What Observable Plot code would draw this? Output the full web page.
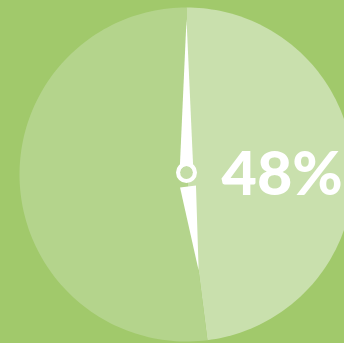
<!DOCTYPE html>
<html>
<head>
<meta charset="utf-8">
<script src="https://cdn.jsdelivr.net/npm/d3@7"></script>
<script src="https://cdn.jsdelivr.net/npm/@observablehq/plot@0.6"></script>
<style>
  html, body { margin: 0; padding: 0; background: #a1c96b; overflow: hidden; }
</style>
</head>
<body>
<div id="chart"></div>
<script>
// Data
const categories = ["48%", "52%"];
const values = [48, 52];
const sliceColors = ["#c9e0ad", "#b4d48c"];
const labelText = "48%";

// Build slice polygons (unit circle, angle clockwise from top)
const total = d3.sum(values);
const pts = [];
let acc = 0;
values.forEach((v, i) => {
  const a0 = acc / total * 2 * Math.PI;
  acc += v;
  const a1 = acc / total * 2 * Math.PI;
  const n = 120;
  pts.push({k: categories[i], x: 0, y: 0});
  for (let j = 0; j <= n; j++) {
    const a = a0 + (a1 - a0) * j / n;
    pts.push({k: categories[i], x: Math.sin(a), y: Math.cos(a)});
  }
  pts.push({k: categories[i], x: 0, y: 0});
});

// Needle: along the two slice boundaries
const bAngle = values[0] / total * 2 * Math.PI;
function needle(angle, start, len, hw0, key) {
  const s = Math.sin(angle), c = Math.cos(angle);
  const px = c, py = -s; // perpendicular
  const bx = start * s, by = start * c;
  return [
    {k: key, x: bx + hw0 * px, y: by + hw0 * py},
    {k: key, x: len * s, y: len * c},
    {k: key, x: bx - hw0 * px, y: by - hw0 * py}
  ];
}
const needlePts = [
  ...needle(0, 0, 0.93, 0.042, "up"),
  ...needle(bAngle, 0.072, 0.58, 0.048, "down")
];

const cx = 186, cy = 174, R = 167, W = 344, H = 343;
const ringY = 2 / R;

const chart = Plot.plot({
  width: W, height: H,
  margin: 0,
  style: {background: "#a1c96b"},
  x: {domain: [-cx / R, (W - cx) / R], axis: null},
  y: {domain: [(cy - H) / R, cy / R], axis: null},
  marks: [
    Plot.line(pts, {x: "x", y: "y", z: "k", fill: d => sliceColors[categories.indexOf(d.k)], stroke: null, curve: "linear"}),
    Plot.line(needlePts, {x: "x", y: "y", z: "k", fill: "white", stroke: null}),
    Plot.dot([{x: 0, y: ringY}], {x: "x", y: "y", r: 6.5, fill: "#c4dda6", stroke: null}),
    Plot.dot([{x: 0, y: ringY}], {x: "x", y: "y", r: 8.5, fill: "none", stroke: "white", strokeWidth: 4}),
    Plot.text([labelText], {x: (221 - cx) / R, y: 0, text: d => d, textAnchor: "start", lineAnchor: "middle", fill: "white", fontSize: 61, fontWeight: 900, fontFamily: "Lato", dy: 1})
  ]
});
document.getElementById("chart").appendChild(chart);
</script>
</body>
</html>
